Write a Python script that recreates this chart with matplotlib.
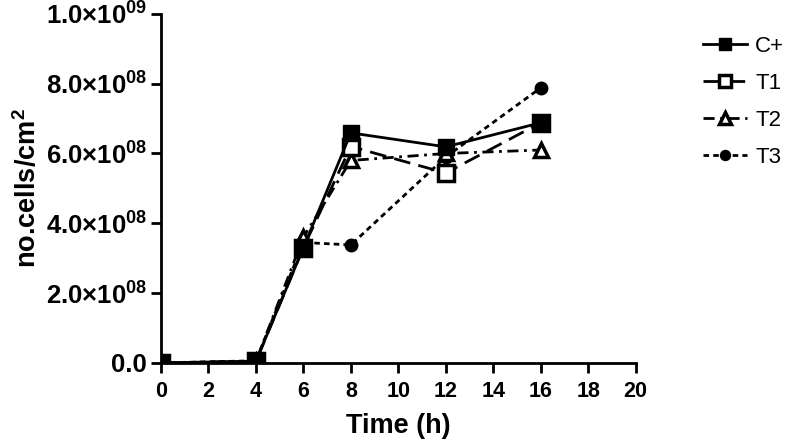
import numpy as np
import matplotlib.pyplot as plt
from matplotlib.ticker import FixedLocator

plt.rcParams['font.family'] = ['Liberation Sans', 'DejaVu Sans']
plt.rcParams['mathtext.fontset'] = 'custom'
plt.rcParams['mathtext.rm'] = 'Liberation Sans'
plt.rcParams['mathtext.bf'] = 'Liberation Sans:bold'

tempo = [0, 4, 6, 8, 12, 16]
c_mais = [0.0, 0.005e9, 0.33e9, 0.659e9, 0.619e9, 0.688e9]
t1 = [0.0, 0.004e9, 0.33e9, 0.62e9, 0.544e9, 0.688e9]
t2 = [0.0, 0.004e9, 0.36e9, 0.58e9, 0.60e9, 0.61e9]
t3 = [0.0, 0.006e9, 0.345e9, 0.338e9, 0.59e9, 0.788e9]

yticks = [0, 2e8, 4e8, 6e8, 8e8, 1e9]
ytick_labels = ['0.0', r'$\mathbf{2.0{\times}10^{08}}$', r'$\mathbf{4.0{\times}10^{08}}$',
                r'$\mathbf{6.0{\times}10^{08}}$', r'$\mathbf{8.0{\times}10^{08}}$',
                r'$\mathbf{1.0{\times}10^{09}}$']

fig = plt.figure(figsize=(7.87, 4.48), dpi=100)
ax = fig.add_axes([0.2046, 0.19, 0.603, 0.779])

ax.plot(tempo, c_mais, color='black', lw=2, ls='-', marker='s', ms=11,
        mfc='black', label='C+', zorder=5)
ax.plot(tempo, t1, color='black', lw=2, ls=(0, (6, 3)), marker='s', ms=11,
        mfc='white', mew=2.5, label='T1', zorder=4)
ax.plot(tempo, t2, color='black', lw=2, ls=(0, (4, 2, 1, 2)), marker='^', ms=10,
        mfc='white', mew=2.5, label='T2', zorder=3)
ax.plot(tempo, t3, color='black', lw=2, ls=(0, (2, 1.5)), marker='o', ms=9,
        mfc='black', label='T3', zorder=2)

ax.set_xlim(0, 20)
ax.set_ylim(0, 1e9)
ax.set_xticks(np.arange(0, 21, 2))
ax.yaxis.set_major_locator(FixedLocator(yticks))
ax.set_yticklabels(ytick_labels)
ax.tick_params(axis='both', width=2, length=7, direction='out')
ax.tick_params(axis='x', labelsize=15.5, pad=6)
ax.tick_params(axis='y', labelsize=18.5, pad=3)
for lbl in ax.get_xticklabels() + ax.get_yticklabels():
    lbl.set_fontweight('bold')

ax.spines['top'].set_visible(False)
ax.spines['right'].set_visible(False)
ax.spines['left'].set_linewidth(2)
ax.spines['bottom'].set_linewidth(2)

ax.set_xlabel('Time (h)', fontsize=19.5, fontweight='bold', labelpad=8)
ax.set_ylabel(r'no.cells/cm$^\mathbf{2}$', fontsize=19.5, fontweight='bold', labelpad=3)

leg = ax.legend(loc='upper left', bbox_to_anchor=(1.1, 0.995), frameon=False,
                fontsize=16, handlelength=2.0, labelspacing=0.72, handletextpad=0.35,
                markerscale=0.8)

fig.savefig('out.png', dpi=100)
